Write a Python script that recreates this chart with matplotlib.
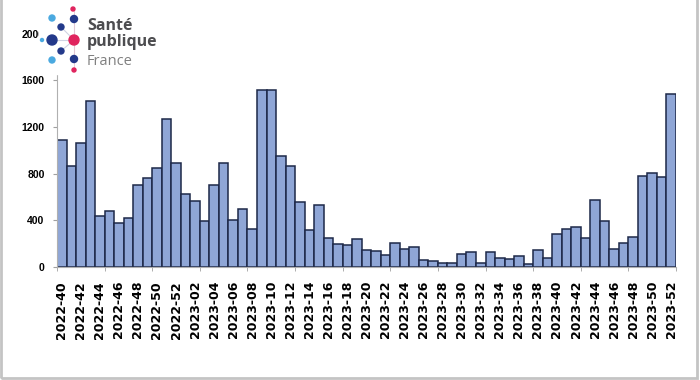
import matplotlib
matplotlib.use("Agg")
import matplotlib.pyplot as plt
from matplotlib.patches import Circle, Rectangle

# weekly counts, 2022-40 .. 2023-52
weeks_2022 = list(range(40, 53))
weeks_2023 = list(range(1, 53))
labels = ["2022-%02d" % w for w in weeks_2022] + ["2023-%02d" % w for w in weeks_2023]

values_2022 = [1090, 865, 1065, 1425, 435, 478, 376, 421, 703, 763, 846, 1264, 888]
values_2023 = [621, 564, 390, 703, 888, 401, 493, 327, 1515, 1515,
               954, 868, 555, 320, 530, 250, 196, 185, 236, 142,
               134, 102, 205, 157, 171, 63, 48, 37, 37, 114,
               125, 31, 125, 80, 68, 91, 23, 145, 77, 285,
               325, 342, 245, 578, 390, 151, 202, 256, 783, 803,
               774, 1486]
values = values_2022 + values_2023
yticks = [0, 400, 800, 1200, 1600, 2000]

fig = plt.figure(figsize=(7, 3.8), dpi=100)
ax = fig.add_axes([57/700, 113/380, 619/700, 233.5/380])

x = list(range(len(values)))
ax.bar(x, values, width=1.0, color="#8fa6d6", edgecolor="#1d2848", linewidth=1.1)
ax.set_xlim(-0.5, len(values) - 0.5)
ax.set_ylim(0, 2000)

ax.set_yticks(yticks)
ax.set_yticklabels([str(v) for v in yticks], fontsize=7.5, fontweight="bold",
                   family="Liberation Sans")
ax.tick_params(axis="y", length=3, color="#a0a0a0", pad=6)

ax.set_xticks(x[::2])
ax.set_xticklabels(labels[::2], rotation=90, fontsize=9, fontweight="bold",
                   family="DejaVu Sans")
ax.tick_params(axis="x", length=0, pad=10)
ax.set_xticks([-0.5 + 5 * k for k in range(14)], minor=True)
ax.tick_params(axis="x", which="minor", length=3, color="#a0a0a0")

for s in ["top", "right"]:
    ax.spines[s].set_visible(False)
for s in ["left", "bottom"]:
    ax.spines[s].set_color("#b0b0b0")

# frame around the picture
fig.add_artist(Rectangle((0.002, 0.006), 0.994, 1.2, transform=fig.transFigure,
                         fill=False, edgecolor="#c4c4c4", linewidth=2))

# logo overlay, pixel coordinates
lg = fig.add_axes([0, 0, 1, 1], zorder=5)
lg.set_xlim(0, 700)
lg.set_ylim(380, 0)
lg.axis("off")
lg.add_patch(Rectangle((39, 0), 126, 74, color="white"))

navy = "#23398a"
pink = "#e0245e"
light = "#4aa9e0"
for (x0, y0) in [(74, 19), (61, 27), (52, 40), (61, 51), (74, 59)]:
    lg.plot([x0, 74], [y0, 40], color="#cfd3e3", lw=0.8)
lg.plot([74, 74], [10, 70], color="#e6c6d2", lw=0.6)
dots = [(73, 9, 2, pink), (74, 19, 3.5, navy), (52, 18, 3, light), (61, 27, 3, navy),
        (42, 40, 1.5, light), (52, 40, 5, navy), (74, 40, 5, pink), (61, 51, 3, navy),
        (52, 60, 3, light), (74, 59, 3.5, navy), (74, 70, 2, pink)]
for (x0, y0, r, c) in dots:
    lg.add_patch(Circle((x0, y0), r, color=c, zorder=3))
lg.text(87, 30, "Santé", fontsize=11.5, fontweight="bold", color="#4d4d50",
        family="Open Sans", va="baseline")
lg.text(87, 46, "publique", fontsize=11.5, fontweight="bold", color="#4d4d50",
        family="Open Sans", va="baseline")
lg.text(87, 65, "France", fontsize=10.5, color="#808080",
        family="Open Sans", va="baseline")

fig.savefig("out.png", dpi=100)
